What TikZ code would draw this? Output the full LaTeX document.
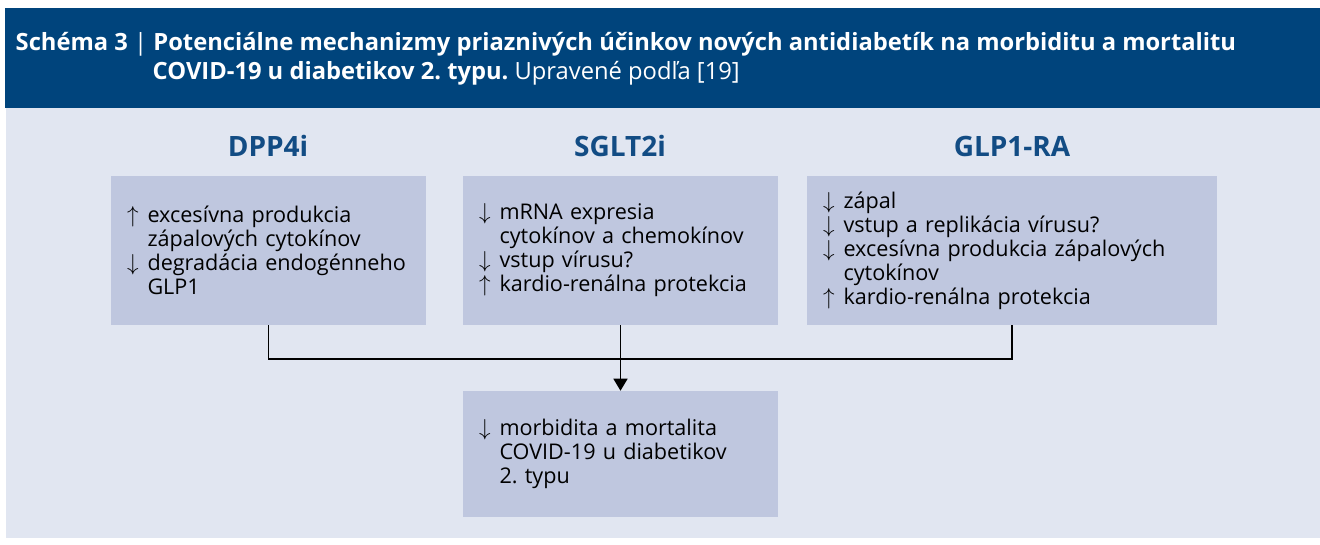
\documentclass[tikz,border=0pt]{standalone}
\usepackage{fontspec}
\setmainfont{Open Sans}
\usetikzlibrary{arrows.meta}
\definecolor{hdblue}{RGB}{0,68,124}
\definecolor{capblue}{RGB}{18,76,132}
\definecolor{bglight}{RGB}{225,230,241}
\definecolor{boxfill}{RGB}{191,199,223}
\newcommand{\arrup}{\makebox[0.95em][l]{$\uparrow$}}
\newcommand{\arrdn}{\makebox[0.95em][l]{$\downarrow$}}
\newcommand{\arrsk}{\makebox[0.95em][l]{}}
\frenchspacing
\hyphenpenalty=10000
\hbadness=10000
\hfuzz=20pt

\begin{document}
\begin{tikzpicture}[x=0.75pt, y=-0.75pt,
    box/.style={fill=boxfill, align=left, inner xsep=12pt, inner ysep=4pt,
      minimum height=111.75pt, font=\fontsize{16.2}{18}\selectfont},
    head/.style={anchor=base, text=capblue, font=\bfseries\fontsize{21}{25}\selectfont},
    ttl/.style={anchor=base west, text=white, font=\bfseries\fontsize{17.8}{21}\selectfont}]
%      \draw [help lines] (0,0) grid [step=50] (1320,545);
      \useasboundingbox (0,0) rectangle (1320,545);
      \fill [hdblue] (5,8) rectangle (1320,108);
      \fill [bglight] (6,108) rectangle (1320,538);

      \node [ttl] (title) at (11,51) {Schéma 3 {\mdseries|} Potenciálne mechanizmy priaznivých účinkov nových antidiabetík na morbiditu a mortalitu};
      \node [ttl] (subtitle) at (148,80) {COVID-19 u diabetikov 2. typu. {\mdseries Upravené podľa [19]}};

      \node [head] (dpp) at (268,157) {DPP4i};
      \node [head] (sglt) at (620,157) {SGLT2i};
      \node [head] (glp) at (1012,157) {GLP1-RA};

      \node [box, text width=212.25pt] (dppbox) at (268.5,250.5) {
        \arrup excesívna produkcia\\
        \arrsk zápalových cytokínov\\
        \arrdn degradácia~endogénneho\\
        \arrsk GLP1};

      \node [box, text width=212.25pt] (sgltbox) at (620.5,250.5) {
        \arrdn mRNA expresia\\
        \arrsk cytokínov a chemokínov\\
        \arrdn vstup vírusu?\\
        \arrup kardio-renálna protekcia};

      \node [box, text width=283.5pt] (glpbox) at (1012,250.5) {
        \arrdn zápal\\
        \arrdn vstup a replikácia vírusu?\\
        \arrdn excesívna produkcia zápalových\\
        \arrsk cytokínov\\
        \arrup kardio-renálna protekcia};

      \node [box, text width=212.25pt, minimum height=94.5pt] (outbox) at (620.5,454) {
        \arrdn morbidita a mortalita\\
        \arrsk COVID-19 u diabetikov\\
        \arrsk 2. typu};

      \coordinate (join) at (620.5,359);
      \draw [line width=1pt] (dppbox.south) |- (join) -| (glpbox.south);
      \draw [line width=1pt, -{Triangle[width=10.5pt,length=9pt]}] (sgltbox.south) -- (outbox.north);

    \end{tikzpicture}
\end{document}
